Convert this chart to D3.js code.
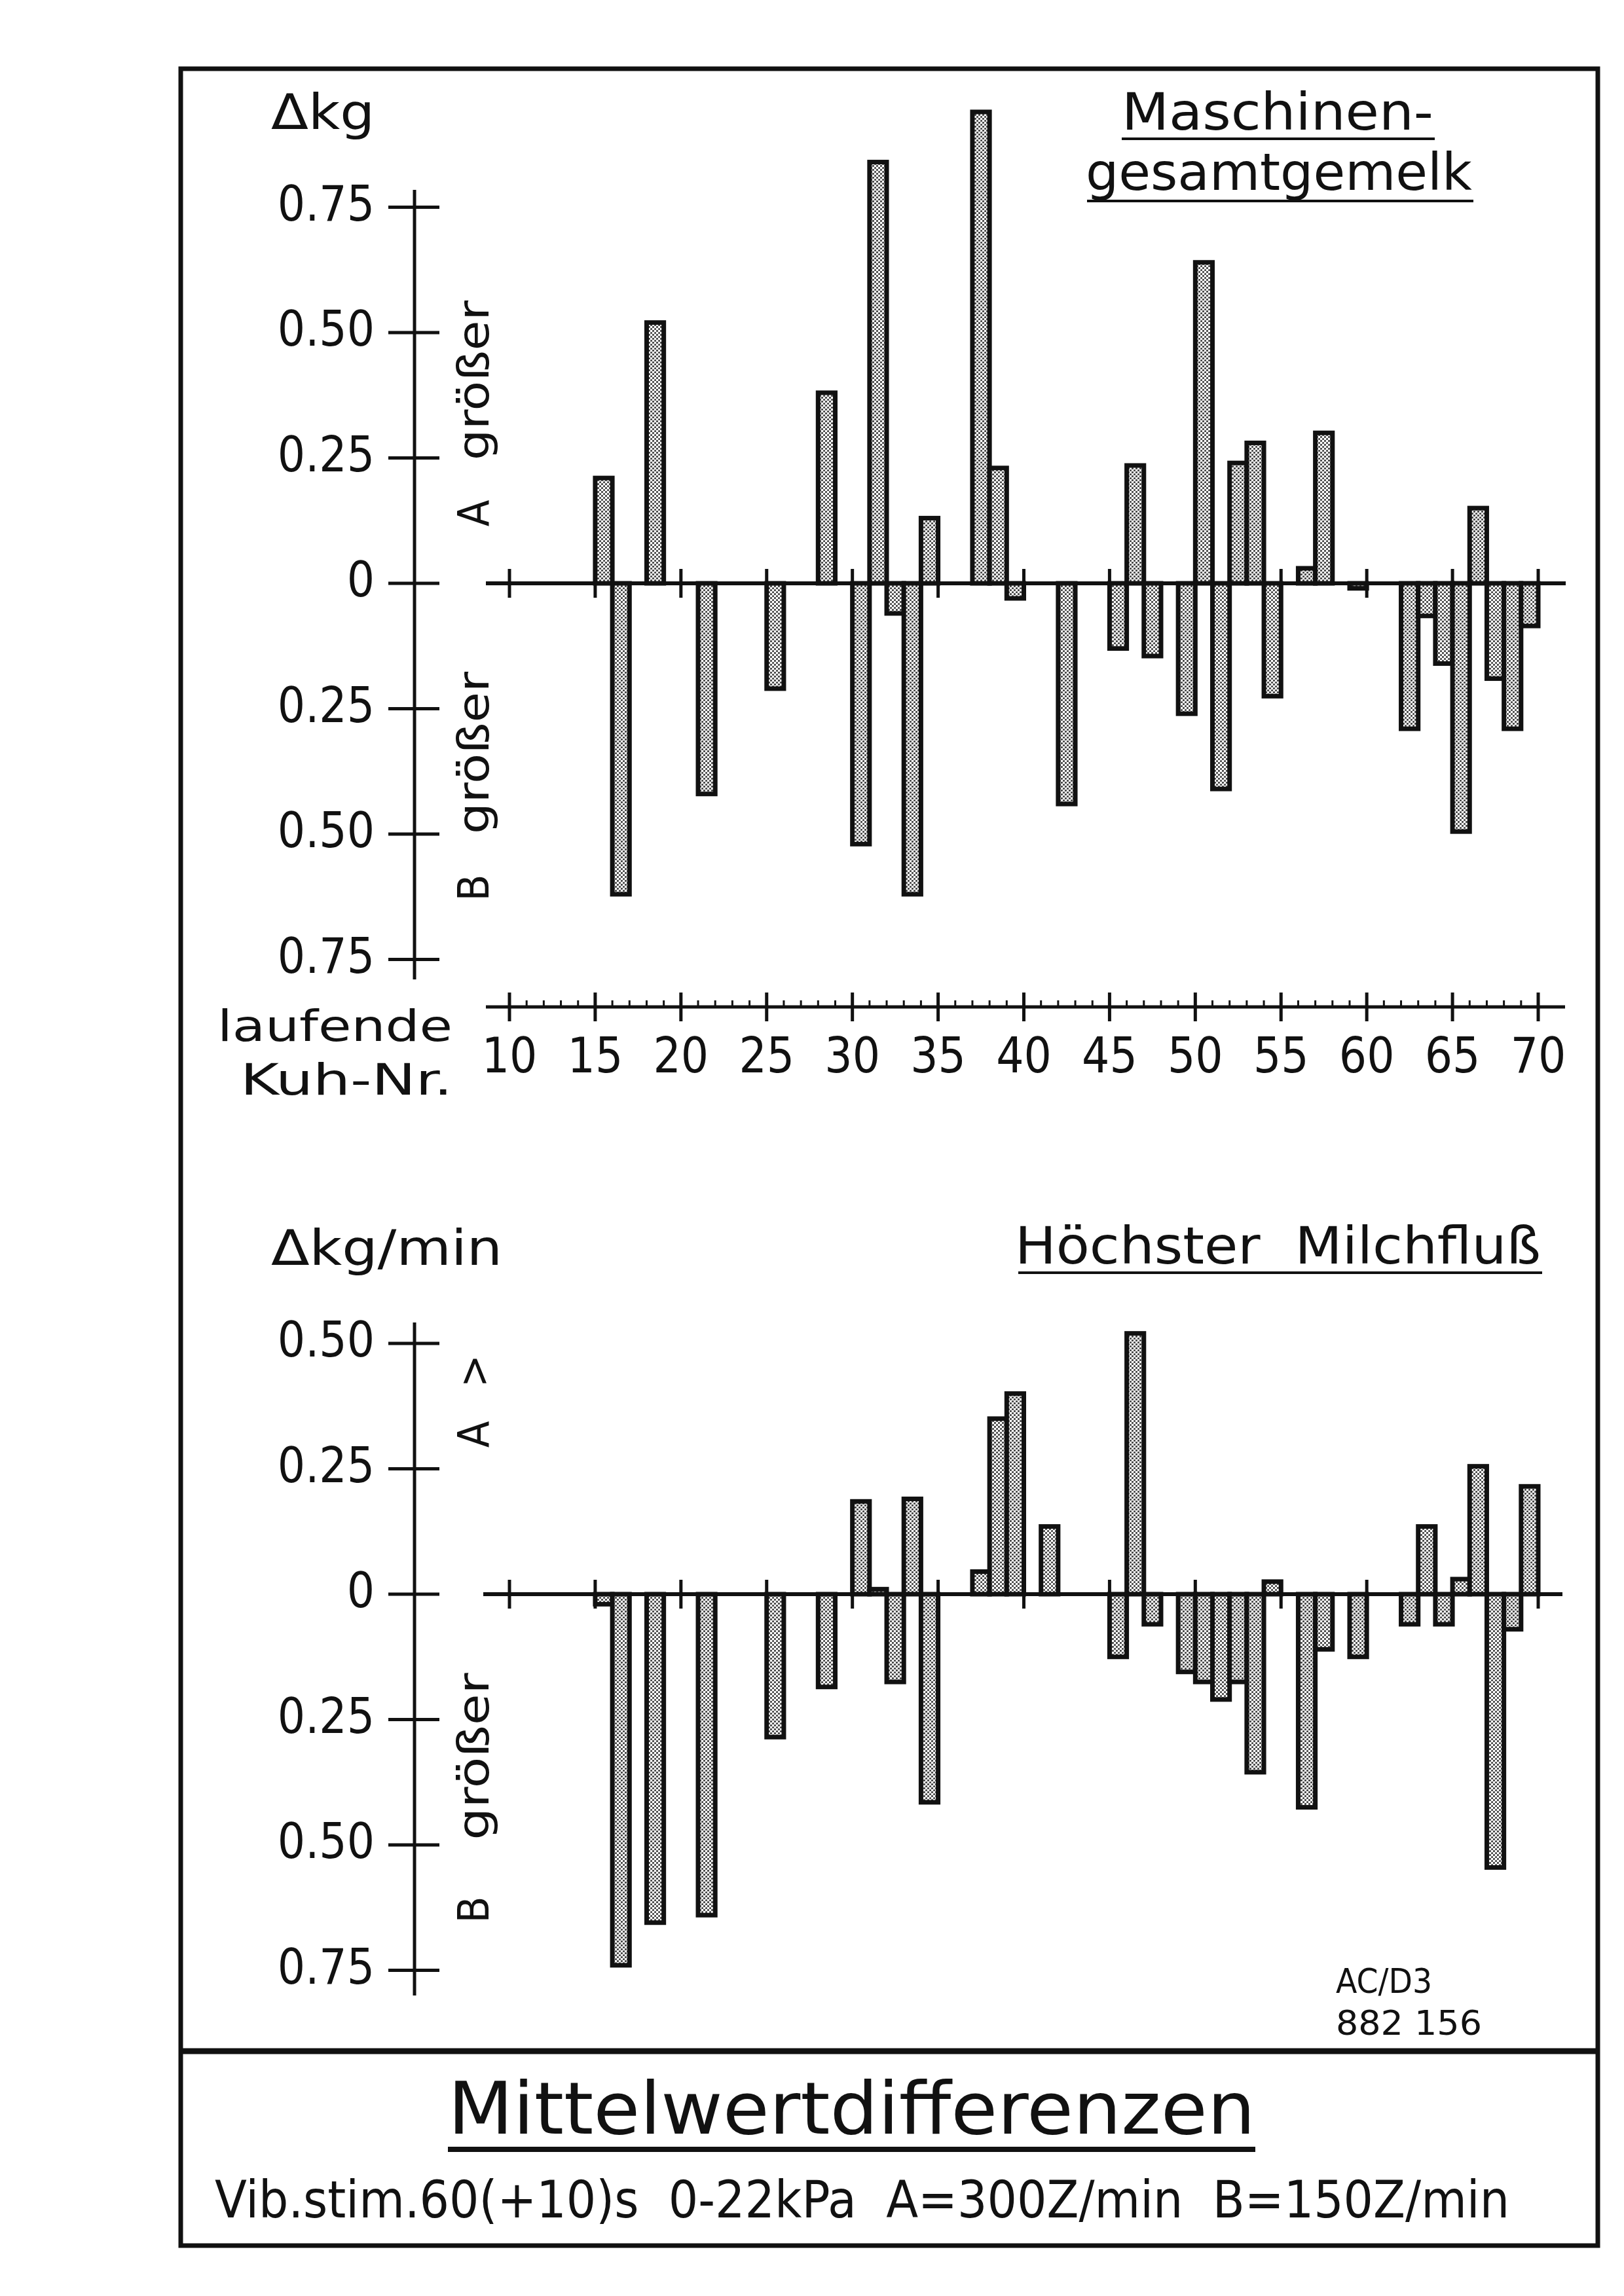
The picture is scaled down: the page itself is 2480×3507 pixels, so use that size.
<!DOCTYPE html>
<html>
<head>
<meta charset="utf-8">
<script src="https://cdn.jsdelivr.net/npm/d3@7"></script>
<style>
  body { margin: 0; background: #fff; }
  text { font-family: 'DejaVu Sans Condensed', 'DejaVu Sans', sans-serif; fill: #111; }
</style>
</head>
<body>
<div id="chart"></div>
<script>
// DATA
const cowTicks = [10, 15, 20, 25, 30, 35, 40, 45, 50, 55, 60, 65, 70];

// Maschinengesamtgemelk (Δkg, A minus B)
const milkCows = [15, 16, 18, 21, 25, 28, 30, 31, 32, 33, 34, 37, 38, 39, 42, 45, 46, 47, 49, 50,
    51, 52, 53, 54, 56, 57, 59, 62, 63, 64, 65, 66, 67, 68, 69];
const milkDiff = [0.21, -0.62, 0.52, -0.42, -0.21, 0.38, -0.52, 0.84, -0.06, -0.62, 0.13, 0.94, 0.23, -0.03, -0.44, -0.13, 0.235, -0.145, -0.26, 0.64,
    -0.41, 0.24, 0.28, -0.225, 0.03, 0.30, -0.01, -0.29, -0.065, -0.16, -0.495, 0.15, -0.19, -0.29, -0.085];
const milkTicks = [0.75, 0.5, 0.25, 0, -0.25, -0.5, -0.75];

// Höchster Milchfluß (Δkg/min)
const flowCows = [15, 16, 18, 21, 25, 28, 30, 31, 32, 33, 34, 37, 38, 39, 41, 45, 46, 47, 49, 50,
    51, 52, 53, 54, 56, 57, 59, 62, 63, 64, 65, 66, 67, 68, 69];
const flowDiff = [-0.02, -0.74, -0.655, -0.64, -0.285, -0.185, 0.185, 0.01, -0.175, 0.19, -0.415, 0.045, 0.35, 0.40, 0.135, -0.125, 0.52, -0.06, -0.155, -0.175,
    -0.21, -0.175, -0.355, 0.025, -0.425, -0.11, -0.125, -0.06, 0.135, -0.06, 0.03, 0.255, -0.545, -0.07, 0.215];
const flowTicks = [0.5, 0.25, 0, -0.25, -0.5, -0.75];

// SETTINGS
const dimensions = { width: 2480, height: 3507 };
const frame = { left: 276, right: 2440, top: 105, bottom: 3430, split: 3133 };
const axisX = 633;
const font = 74;

const svg = d3.select('#chart')
    .append('svg')
    .attr('width', dimensions.width)
    .attr('height', dimensions.height);

// stipple fill of the bars
const defs = svg.append('defs');
const dots = defs.append('pattern')
    .attr('id', 'stipple')
    .attr('patternUnits', 'userSpaceOnUse')
    .attr('width', 6)
    .attr('height', 6);
dots.append('rect').attr('width', 6).attr('height', 6).attr('fill', '#fff');
dots.append('circle').attr('cx', 1.5).attr('cy', 1.5).attr('r', 1.6).attr('fill', '#444');
dots.append('circle').attr('cx', 4.5).attr('cy', 4.5).attr('r', 1.6).attr('fill', '#444');

const x = d3.scaleLinear()
    .domain([10, 70])
    .range([778, 2349]);

// frame
svg.append('rect')
    .attr('x', frame.left).attr('y', frame.top)
    .attr('width', frame.right - frame.left)
    .attr('height', frame.bottom - frame.top)
    .attr('fill', 'none')
    .attr('stroke', '#111')
    .attr('stroke-width', 7);
svg.append('line')
    .attr('x1', frame.left).attr('x2', frame.right)
    .attr('y1', frame.split).attr('y2', frame.split)
    .attr('stroke', '#111')
    .attr('stroke-width', 9);

const addText = (g, str, opts) => {
    const t = g.append('text')
        .attr('x', opts.x)
        .attr('y', opts.y)
        .attr('font-size', opts.size || font)
        .attr('text-anchor', opts.anchor || 'start')
        .style('white-space', 'pre')
        .text(str);
    if (opts.len) t.attr('textLength', opts.len).attr('lengthAdjust', 'spacingAndGlyphs');
    if (opts.transform) t.attr('transform', opts.transform);
    return t;
};

const underline = (x1, x2, y, w) => {
    svg.append('line')
        .attr('x1', x1).attr('x2', x2)
        .attr('y1', y).attr('y2', y)
        .attr('stroke', '#111')
        .attr('stroke-width', w || 4);
};

// one bar panel
const drawPanel = (cfg) => {
    const y = d3.scaleLinear()
        .domain([-0.75, 0.75])
        .range([cfg.zero + 574.5, cfg.zero - 574.5]);
    const g = svg.append('g');

    // y axis with crossing ticks
    g.append('line')
        .attr('x1', axisX).attr('x2', axisX)
        .attr('y1', cfg.axisTop).attr('y2', cfg.axisBottom)
        .attr('stroke', '#111').attr('stroke-width', 5);
    g.selectAll('.ytick')
        .data(cfg.ticks)
        .enter()
        .append('line')
        .attr('x1', axisX - 40).attr('x2', axisX + 38)
        .attr('y1', d => y(d)).attr('y2', d => y(d))
        .attr('stroke', '#111').attr('stroke-width', 5);
    g.selectAll('.ylabel')
        .data(cfg.ticks)
        .enter()
        .append('text')
        .attr('x', 572)
        .attr('y', d => y(d) + 20)
        .attr('font-size', font)
        .attr('text-anchor', 'end')
        .text(d => d === 0 ? '0' : d3.format('.2f')(Math.abs(d)));

    // bars from the zero line
    g.selectAll('.bar')
        .data(cfg.cows.map((c, i) => ({ cow: c, v: cfg.values[i] })))
        .enter()
        .append('rect')
        .attr('x', d => x(d.cow))
        .attr('width', d => x(d.cow + 1) - x(d.cow))
        .attr('y', d => Math.min(y(d.v), y(0)))
        .attr('height', d => Math.abs(y(d.v) - y(0)))
        .attr('fill', 'url(#stipple)')
        .attr('stroke', '#111')
        .attr('stroke-width', 7);

    // zero line with ticks every 5 cows
    g.append('line')
        .attr('x1', cfg.zeroFrom).attr('x2', cfg.zeroTo)
        .attr('y1', y(0)).attr('y2', y(0))
        .attr('stroke', '#111').attr('stroke-width', 6);
    g.selectAll('.ztick')
        .data(cowTicks)
        .enter()
        .append('line')
        .attr('x1', d => x(d)).attr('x2', d => x(d))
        .attr('y1', y(0) - 22).attr('y2', y(0) + 22)
        .attr('stroke', '#111').attr('stroke-width', 5);
    return y;
};

// TOP: Maschinengesamtgemelk
drawPanel({
    zero: 891, axisTop: 290, axisBottom: 1496,
    ticks: milkTicks, cows: milkCows, values: milkDiff,
    zeroFrom: 742, zeroTo: 2391
});
addText(svg, 'Δkg', { x: 414, y: 197, len: 158 });
addText(svg, 'A', { x: 0, y: 0, size: 66, anchor: 'middle', transform: 'translate(746,784) rotate(-90)' });
addText(svg, 'größer', { x: 0, y: 0, size: 66, anchor: 'middle', len: 244, transform: 'translate(746,581) rotate(-90)' });
addText(svg, 'B', { x: 0, y: 0, size: 66, anchor: 'middle', transform: 'translate(746,1356) rotate(-90)' });
addText(svg, 'größer', { x: 0, y: 0, size: 66, anchor: 'middle', len: 248, transform: 'translate(746,1150) rotate(-90)' });
addText(svg, 'Maschinen-', { x: 1713, y: 198, size: 78, len: 476 });
underline(1713, 2191, 212);
addText(svg, 'gesamtgemelk', { x: 1658, y: 290, size: 78, len: 590 });
underline(1660, 2250, 307);

// separate cow number axis
const axisY = 1538;
const cowAxis = svg.append('g');
cowAxis.append('line')
    .attr('x1', 742).attr('x2', 2390)
    .attr('y1', axisY).attr('y2', axisY)
    .attr('stroke', '#111').attr('stroke-width', 5);
cowAxis.selectAll('.minor')
    .data(d3.range(10, 71))
    .enter()
    .append('line')
    .attr('x1', d => x(d)).attr('x2', d => x(d))
    .attr('y1', axisY - 10).attr('y2', axisY)
    .attr('stroke', '#111').attr('stroke-width', 3);
cowAxis.selectAll('.major')
    .data(cowTicks)
    .enter()
    .append('line')
    .attr('x1', d => x(d)).attr('x2', d => x(d))
    .attr('y1', axisY - 22).attr('y2', axisY + 22)
    .attr('stroke', '#111').attr('stroke-width', 5);
cowAxis.selectAll('.lab')
    .data(cowTicks)
    .enter()
    .append('text')
    .attr('x', d => x(d))
    .attr('y', 1638)
    .attr('font-size', font)
    .attr('text-anchor', 'middle')
    .text(d => d);
addText(svg, 'laufende', { x: 691, y: 1590, size: 66, anchor: 'end', len: 359 });
addText(svg, 'Kuh-Nr.', { x: 691, y: 1672, size: 66, anchor: 'end', len: 324 });

// BOTTOM: Höchster Milchfluß
drawPanel({
    zero: 2435, axisTop: 2020, axisBottom: 3048,
    ticks: flowTicks, cows: flowCows, values: flowDiff,
    zeroFrom: 738, zeroTo: 2386
});
addText(svg, 'Δkg/min', { x: 414, y: 1932, len: 353 });
addText(svg, 'Höchster  Milchfluß', { x: 1550, y: 1930, size: 78, len: 803 });
underline(1555, 2355, 1944);
addText(svg, 'A', { x: 0, y: 0, size: 66, anchor: 'middle', transform: 'translate(746,2191) rotate(-90)' });
addText(svg, '>', { x: 0, y: 0, size: 66, anchor: 'middle', transform: 'translate(746,2094) rotate(-90)' });
addText(svg, 'B', { x: 0, y: 0, size: 66, anchor: 'middle', transform: 'translate(746,2917) rotate(-90)' });
addText(svg, 'größer', { x: 0, y: 0, size: 66, anchor: 'middle', len: 255, transform: 'translate(746,2683) rotate(-90)' });

// drawing number
addText(svg, 'AC/D3', { x: 2040, y: 3044, size: 52, len: 147 });
addText(svg, '882 156', { x: 2040, y: 3108, size: 52, len: 223 });

// title block
addText(svg, 'Mittelwertdifferenzen', { x: 684, y: 3259, size: 110, len: 1233 });
underline(684, 1917, 3283, 8);
addText(svg, 'Vib.stim.60(+10)s  0-22kPa  A=300Z/min  B=150Z/min', { x: 328, y: 3387, size: 78, len: 1977 });
</script>
</body>
</html>
